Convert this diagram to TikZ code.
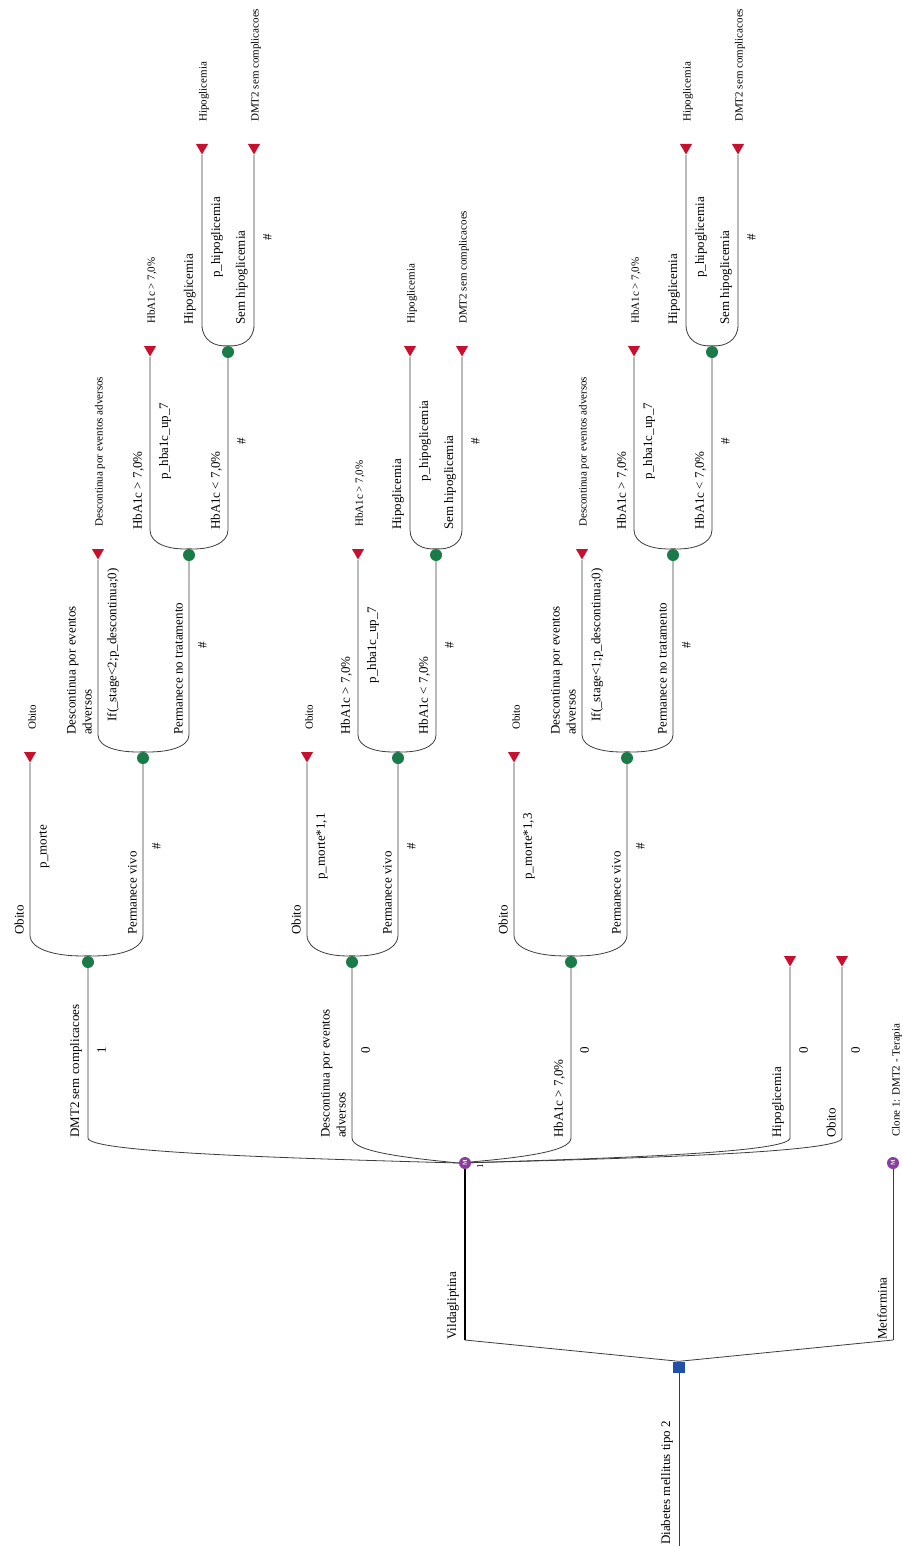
\documentclass[tikz,border=0pt]{standalone}
\usepackage{fontspec}
\setmainfont{Liberation Serif}
\usetikzlibrary{shapes.geometric,backgrounds}
\definecolor{tred}{RGB}{200,16,46}
\definecolor{cgreen}{RGB}{26,122,72}
\definecolor{mpurple}{RGB}{140,60,160}
\definecolor{dblue}{RGB}{32,80,168}
\definecolor{edgec}{RGB}{60,60,60}
\tikzset{
 edge/.style={draw=edgec, line width=0.8pt},
 chance/.style={circle, fill=cgreen, minimum size=12pt, inner sep=0pt},
 term/.style={regular polygon, regular polygon sides=3, shape border rotate=180, fill=tred, minimum size=14pt, inner sep=0pt},
 markov/.style={circle, fill=mpurple, minimum size=12pt, inner sep=0pt, text=white, font=\fontsize{6}{6}\selectfont\bfseries, rotate=90},
 decision/.style={rectangle, fill=dblue, minimum width=12pt, minimum height=11pt, inner sep=0pt},
 bname/.style={rotate=90, anchor=south west, inner sep=0pt, align=left, font=\fontsize{13}{16}\selectfont},
 bprob/.style={rotate=90, anchor=north, inner sep=0pt, font=\fontsize{13}{16}\selectfont},
 tlabel/.style={rotate=90, anchor=west, inner sep=0pt, font=\fontsize{11}{13}\selectfont},
}
% #1 parent, #2 px, #3 py, #4 child, #5 cx, #6 cy, #7 ytop, #8 name, #9 prob
\newcommand{\br}[9]{%
 \pgfmathsetmacro\brcx{#2+0.5*(#5-#2)}%
 \pgfmathsetmacro\brcy{#7+0.7*(#3-5-#7)}%
 \pgfmathsetmacro\brmy{(#7+#6)/2}%
 \begin{pgfonlayer}{background}
 \draw[edge] (#1.north) .. controls (\brcx,#3-5) and (#5,\brcy) .. (#5,#7) -- (#4);
 \end{pgfonlayer}
 \node[bname] (#4-name) at (#5-6,#7) {#8};
 \node[bprob] (#4-prob) at (#5+9,\brmy) {#9};
}
% terminal label: #1 node, #2 x, #3 y, #4 text
\newcommand{\tlab}[4]{\node[tlabel] (#1-tl) at (#2+2,#3-28) {#4};}
\newcommand{\tnode}[3]{\node[term] (#1) at (#2,#3-2.5) {};}
\begin{document}
\begin{tikzpicture}[x=1pt,y=-1pt]
\useasboundingbox (0,0) rectangle (902,1546);
\begin{pgfonlayer}{background}
\fill[white] (0,0) rectangle (902,1546);
\end{pgfonlayer}
% root
\node[decision] (D) at (679,1367) {};
\node[markov] (V) at (465,1163) {M};
\node[markov] (Mf) at (893,1163) {M};
\coordinate (vc) at (465,1340);
\coordinate (mc) at (893,1340);
\coordinate (rootend) at (679,1546);
% level 1
\node[chance] (c1) at (88,962) {};
\node[chance] (c2) at (352,962) {};
\node[chance] (c3) at (571,962) {};
\tnode{t01}{790}{962}
\tnode{t02}{842}{962}
% subtree 1
\tnode{t11}{30}{758}
\node[chance] (c11) at (143,758) {};
\tnode{t12}{98}{555}
\node[chance] (c12) at (189,555) {};
\tnode{t13}{150}{352}
\node[chance] (c13) at (228,352) {};
\tnode{t14}{202}{150}
\tnode{t15}{254}{150}
% subtree 2
\tnode{t21}{307}{758}
\node[chance] (c21) at (398,758) {};
\tnode{t22}{358}{555}
\node[chance] (c22) at (436,555) {};
\tnode{t23}{410}{352}
\tnode{t24}{462}{352}
% subtree 3
\tnode{t31}{514}{758}
\node[chance] (c31) at (627,758) {};
\tnode{t32}{582}{555}
\node[chance] (c32) at (673,555) {};
\tnode{t33}{634}{352}
\node[chance] (c33) at (712,352) {};
\tnode{t34}{686}{150}
\tnode{t35}{738}{150}

% root connectors
\begin{pgfonlayer}{background}
\draw[edge] (D) -- (rootend);
\draw[edge] (D.north) -- (vc);
\draw[edge] (D.north) -- (mc);
\draw[draw=black, line width=2.6pt] (vc) -- (V);
\draw[edge] (mc) -- (Mf);
\end{pgfonlayer}
\node[bname] (lroot) at (673,1545) {Diabetes mellitus tipo 2};
\node[bname] (lvil) at (459,1340) {Vildagliptina};
\node[bname] (lmet) at (887,1340) {Metformina};
\node[tlabel] (lclone) at (897,1137) {Clone 1: DMT2 - Terapia};
\node[bprob, font=\fontsize{9}{9}\selectfont] (lone) at (477,1166) {1};

% Markov branches
\br{V}{465}{1163}{c1}{88}{962}{1138}{DMT2 sem complicacoes}{1}
\br{V}{465}{1163}{c2}{352}{962}{1138}{Descontinua por eventos\\adversos}{0}
\br{V}{465}{1163}{c3}{571}{962}{1138}{HbA1c > 7,0\%}{0}
\br{V}{465}{1163}{t01}{790}{962}{1138}{Hipoglicemia}{0}
\br{V}{465}{1163}{t02}{842}{962}{1138}{Obito}{0}

% subtree 1
\br{c1}{88}{962}{t11}{30}{758}{935}{Obito}{p\_morte}
\br{c1}{88}{962}{c11}{143}{758}{935}{Permanece vivo}{\#}
\br{c11}{143}{758}{t12}{98}{555}{735}{Descontinua por eventos\\adversos}{If(\_stage<2;p\_descontinua;0)}
\br{c11}{143}{758}{c12}{189}{555}{735}{Permanece no tratamento}{\#}
\br{c12}{189}{555}{t13}{150}{352}{530}{HbA1c > 7,0\%}{p\_hba1c\_up\_7}
\br{c12}{189}{555}{c13}{228}{352}{530}{HbA1c < 7,0\%}{\#}
\br{c13}{228}{352}{t14}{202}{150}{325}{Hipoglicemia}{p\_hipoglicemia}
\br{c13}{228}{352}{t15}{254}{150}{325}{Sem hipoglicemia}{\#}
\tlab{t11}{30}{758}{Obito}
\tlab{t12}{98}{555}{Descontinua por eventos adversos}
\tlab{t13}{150}{352}{HbA1c > 7,0\%}
\tlab{t14}{202}{150}{Hipoglicemia}
\tlab{t15}{254}{150}{DMT2 sem complicacoes}

% subtree 2
\br{c2}{352}{962}{t21}{307}{758}{935}{Obito}{p\_morte*1,1}
\br{c2}{352}{962}{c21}{398}{758}{935}{Permanece vivo}{\#}
\br{c21}{398}{758}{t22}{358}{555}{735}{HbA1c > 7,0\%}{p\_hba1c\_up\_7}
\br{c21}{398}{758}{c22}{436}{555}{735}{HbA1c < 7,0\%}{\#}
\br{c22}{436}{555}{t23}{410}{352}{530}{Hipoglicemia}{p\_hipoglicemia}
\br{c22}{436}{555}{t24}{462}{352}{530}{Sem hipoglicemia}{\#}
\tlab{t21}{307}{758}{Obito}
\tlab{t22}{358}{555}{HbA1c > 7,0\%}
\tlab{t23}{410}{352}{Hipoglicemia}
\tlab{t24}{462}{352}{DMT2 sem complicacoes}

% subtree 3
\br{c3}{571}{962}{t31}{514}{758}{935}{Obito}{p\_morte*1,3}
\br{c3}{571}{962}{c31}{627}{758}{935}{Permanece vivo}{\#}
\br{c31}{627}{758}{t32}{582}{555}{735}{Descontinua por eventos\\adversos}{If(\_stage<1;p\_descontinua;0)}
\br{c31}{627}{758}{c32}{673}{555}{735}{Permanece no tratamento}{\#}
\br{c32}{673}{555}{t33}{634}{352}{530}{HbA1c > 7,0\%}{p\_hba1c\_up\_7}
\br{c32}{673}{555}{c33}{712}{352}{530}{HbA1c < 7,0\%}{\#}
\br{c33}{712}{352}{t34}{686}{150}{325}{Hipoglicemia}{p\_hipoglicemia}
\br{c33}{712}{352}{t35}{738}{150}{325}{Sem hipoglicemia}{\#}
\tlab{t31}{514}{758}{Obito}
\tlab{t32}{582}{555}{Descontinua por eventos adversos}
\tlab{t33}{634}{352}{HbA1c > 7,0\%}
\tlab{t34}{686}{150}{Hipoglicemia}
\tlab{t35}{738}{150}{DMT2 sem complicacoes}
\end{tikzpicture}
\end{document}
